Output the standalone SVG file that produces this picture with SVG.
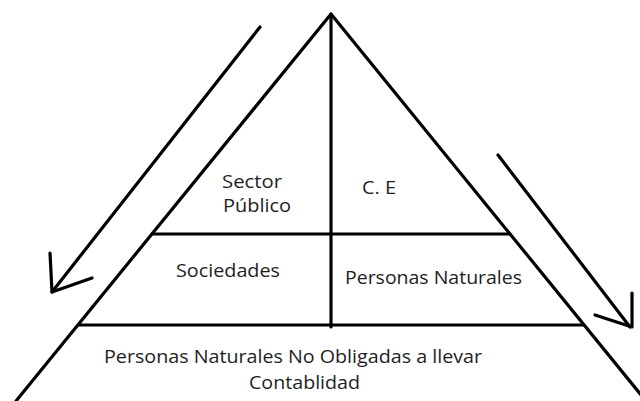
<svg xmlns="http://www.w3.org/2000/svg" width="640" height="401" viewBox="0 0 640 401">
  <style>
    .ln { stroke: #000; stroke-width: 3.2; fill: none; stroke-linecap: round; stroke-linejoin: round; }
    .lbl { font-family: "Open Sans", "Liberation Sans", sans-serif; font-size: 19px; fill: #1e1e1e; }
  </style>
  <rect width="640" height="401" fill="#fff"/>

  <!-- pyramid frame and tiers -->
  <g id="pyramid">
    <path class="ln" d="M16,401 L331,14 L646,401"/>
    <line class="ln" x1="331" y1="14" x2="331" y2="327"/>
    <line class="ln" x1="152" y1="234" x2="510" y2="234"/>
    <line class="ln" x1="78" y1="325" x2="583" y2="325"/>
  </g>

  <g id="sector-publico">
    <text class="lbl" x="222" y="188" textLength="60" lengthAdjust="spacingAndGlyphs">Sector</text>
    <text class="lbl" x="223" y="212" textLength="68" lengthAdjust="spacingAndGlyphs">Público</text>
  </g>
  <g id="ce">
    <text class="lbl" x="362" y="194" textLength="34" lengthAdjust="spacingAndGlyphs">C. E</text>
  </g>
  <g id="sociedades">
    <text class="lbl" x="176" y="277" textLength="104" lengthAdjust="spacingAndGlyphs">Sociedades</text>
  </g>
  <g id="personas-naturales">
    <text class="lbl" x="345" y="284" textLength="177" lengthAdjust="spacingAndGlyphs">Personas Naturales</text>
  </g>
  <g id="personas-no-obligadas">
    <text class="lbl" x="104" y="363" textLength="378" lengthAdjust="spacingAndGlyphs">Personas Naturales No Obligadas a llevar</text>
    <text class="lbl" x="249" y="389" textLength="111" lengthAdjust="spacingAndGlyphs">Contablidad</text>
  </g>

  <!-- downward arrows alongside the pyramid -->
  <g id="connectors">
    <line class="ln" x1="260" y1="27" x2="52" y2="292"/>
    <polyline class="ln" points="50,253 52,292 92,278"/>
    <line class="ln" x1="498" y1="155" x2="630" y2="327"/>
    <polyline class="ln" points="632,293 632,327 595,315"/>
  </g>
</svg>
